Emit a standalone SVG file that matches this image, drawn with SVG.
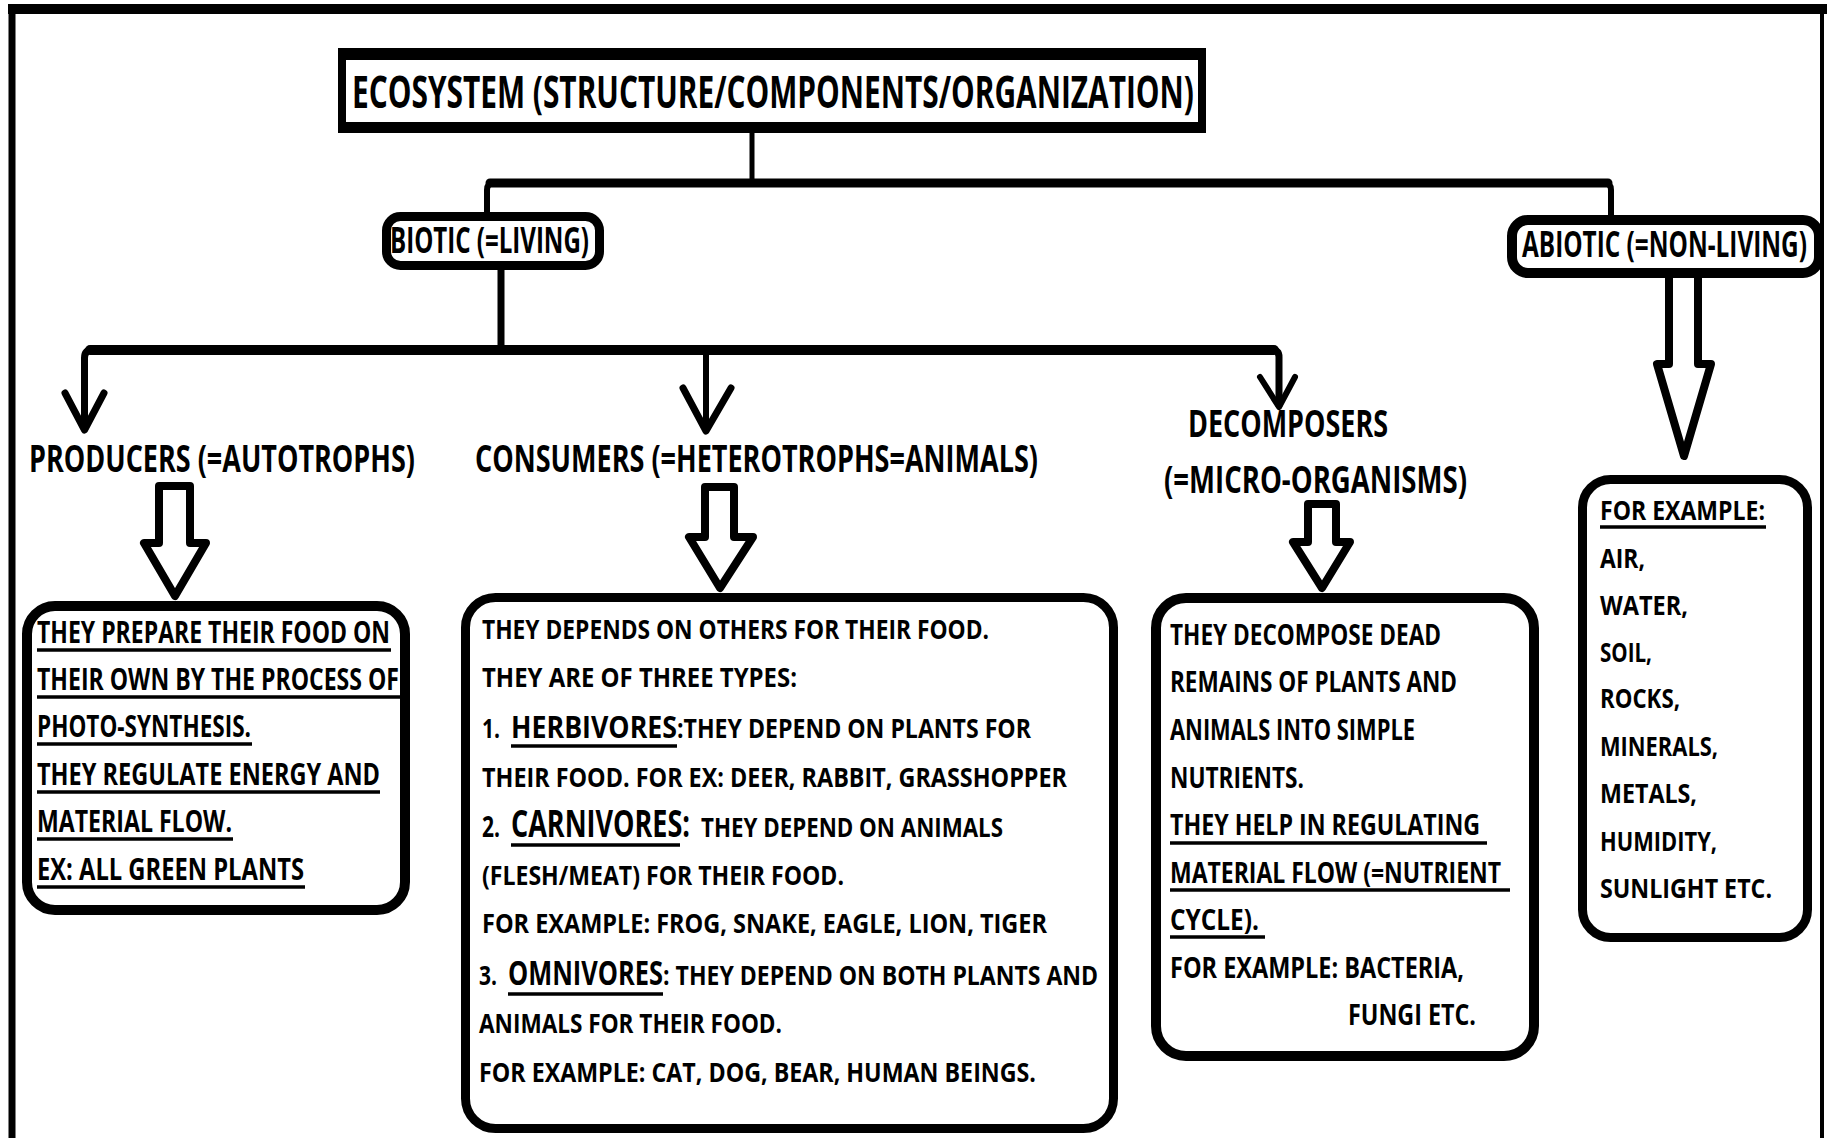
<svg xmlns="http://www.w3.org/2000/svg" width="1827" height="1138" viewBox="0 0 1827 1138">
  <style>
    text { font-family: "Open Sans", "Liberation Sans", sans-serif; font-weight: 700; fill: #000; }
    .box { fill: #fff; stroke: #000; }
    .line { fill: none; stroke: #000; stroke-linecap: round; stroke-linejoin: round; }
    .block { fill: #fff; stroke: #000; stroke-width: 8; stroke-linejoin: round; }
    .ul { stroke: #000; stroke-width: 3.5; }
  </style>
  <rect width="1827" height="1138" fill="#fff"/>

  <!-- outer frame -->
  <g id="frame" fill="none" stroke="#000">
    <line x1="8" y1="9" x2="1827" y2="9" stroke-width="10"/>
    <line x1="12" y1="4" x2="12" y2="1138" stroke-width="7"/>
    <line x1="1822" y1="4" x2="1822" y2="1138" stroke-width="4"/>
  </g>

  <!-- connectors: tree lines, chevron arrows, hollow block arrows -->
  <g id="connectors">
    <line class="line" x1="752" y1="133" x2="752" y2="183" stroke-width="5"/>
    <path class="line" d="M487,212 V190 Q487,183 494,183 H1604 Q1611,183 1611,190 V216" stroke-width="6"/>
    <line class="line" x1="490" y1="183" x2="1608" y2="183" stroke-width="9"/>

    <line class="line" x1="501" y1="270" x2="501" y2="350" stroke-width="7"/>
    <path class="line" d="M84.5,428 V358 Q84.5,350 92,350 H1272 Q1279,350 1279,357 V405" stroke-width="7"/>
    <line class="line" x1="90" y1="350" x2="1274" y2="350" stroke-width="10"/>
    <line class="line" x1="706" y1="350" x2="706" y2="430" stroke-width="6"/>
    <path class="line" d="M65,393 L84.5,430 L104,393" stroke-width="7"/>
    <path class="line" d="M683,388 L706,431 L731,388" stroke-width="7"/>
    <path class="line" d="M1260,377 L1279,407 L1295,377" stroke-width="6"/>

    <path class="block" d="M159,486 H190 V543 H206 L175,596 L144,543 H159 Z"/>
    <path class="block" d="M705,487 H734 V537 H753 L720,588 L689,537 H705 Z"/>
    <path class="block" d="M1308,504 H1336 V542 H1350 L1322,588 L1293,542 H1308 Z"/>
    <path class="block" d="M1669,272 H1698 V364 H1711 L1684,456 L1657,364 H1669 Z"/>
  </g>

  <g id="node-ecosystem">
    <rect x="338" y="48" width="868" height="85" fill="#000"/>
    <rect x="346" y="60" width="852" height="62" fill="#fff"/>
    <text transform="translate(352,108) scale(0.72,1)" font-size="45" textLength="1169.4" lengthAdjust="spacingAndGlyphs">ECOSYSTEM (STRUCTURE/COMPONENTS/ORGANIZATION)</text>
  </g>

  <g id="node-biotic">
    <rect class="box" x="386.5" y="216.5" width="213" height="49" rx="14" stroke-width="9"/>
    <text transform="translate(390,253) scale(0.72,1)" font-size="36" textLength="276.4" lengthAdjust="spacingAndGlyphs">BIOTIC (=LIVING)</text>
  </g>

  <g id="node-abiotic">
    <rect class="box" x="1512" y="220" width="307" height="53" rx="16" stroke-width="10"/>
    <text transform="translate(1522,257) scale(0.72,1)" font-size="35" textLength="395.8" lengthAdjust="spacingAndGlyphs">ABIOTIC (=NON-LIVING)</text>
  </g>

  <g id="node-producers">
    <text transform="translate(29,472) scale(0.72,1)" font-size="38" textLength="536.1" lengthAdjust="spacingAndGlyphs">PRODUCERS (=AUTOTROPHS)</text>
  </g>

  <g id="node-consumers">
    <text transform="translate(475,472) scale(0.72,1)" font-size="38" textLength="781.9" lengthAdjust="spacingAndGlyphs">CONSUMERS (=HETEROTROPHS=ANIMALS)</text>
  </g>

  <g id="node-decomposers">
    <text transform="translate(1188,437) scale(0.72,1)" font-size="37" textLength="277.8" lengthAdjust="spacingAndGlyphs">DECOMPOSERS</text>
    <text transform="translate(1164,493) scale(0.72,1)" font-size="37" textLength="420.8" lengthAdjust="spacingAndGlyphs">(=MICRO-ORGANISMS)</text>
  </g>

  <g id="node-producers-info">
    <rect class="box" x="27" y="606" width="378" height="304" rx="28" stroke-width="10"/>
    <g font-size="30">
      <text transform="translate(37,643) scale(0.72,1)" textLength="490.3" lengthAdjust="spacingAndGlyphs">THEY PREPARE THEIR FOOD ON</text>
      <text transform="translate(37,690) scale(0.72,1)" textLength="502.8" lengthAdjust="spacingAndGlyphs">THEIR OWN BY THE PROCESS OF</text>
      <text transform="translate(37,737) scale(0.72,1)" textLength="297.2" lengthAdjust="spacingAndGlyphs">PHOTO-SYNTHESIS.</text>
      <text transform="translate(37,785) scale(0.72,1)" textLength="476.4" lengthAdjust="spacingAndGlyphs">THEY REGULATE ENERGY AND</text>
      <text transform="translate(37,832) scale(0.72,1)" textLength="270.8" lengthAdjust="spacingAndGlyphs">MATERIAL FLOW.</text>
      <text transform="translate(37,880) scale(0.72,1)" textLength="370.8" lengthAdjust="spacingAndGlyphs">EX: ALL GREEN PLANTS</text>
    </g>
    <line class="ul" x1="37" y1="650" x2="391" y2="650"/>
    <line class="ul" x1="37" y1="697" x2="400" y2="697"/>
    <line class="ul" x1="37" y1="744" x2="252" y2="744"/>
    <line class="ul" x1="37" y1="792" x2="380" y2="792"/>
    <line class="ul" x1="37" y1="839" x2="233" y2="839"/>
    <line class="ul" x1="37" y1="887" x2="305" y2="887"/>
  </g>

  <g id="node-consumers-info">
    <rect class="box" x="465.5" y="597.5" width="648" height="531" rx="30" stroke-width="9"/>
    <g font-size="26">
      <text transform="translate(482,639) scale(0.72,1)" textLength="704.2" lengthAdjust="spacingAndGlyphs">THEY DEPENDS ON OTHERS FOR THEIR FOOD.</text>
      <text transform="translate(482,687) scale(0.72,1)" textLength="437.5" lengthAdjust="spacingAndGlyphs">THEY ARE OF THREE TYPES:</text>
      <text transform="translate(482,738) scale(0.72,1)"><tspan x="0" textLength="25" lengthAdjust="spacingAndGlyphs">1.</tspan><tspan x="40.3" font-size="30" textLength="230.6" lengthAdjust="spacingAndGlyphs">HERBIVORES</tspan><tspan x="270.8" textLength="491.7" lengthAdjust="spacingAndGlyphs">:THEY DEPEND ON PLANTS FOR</tspan></text>
      <text transform="translate(482,787) scale(0.72,1)" textLength="812.5" lengthAdjust="spacingAndGlyphs">THEIR FOOD. FOR EX: DEER, RABBIT, GRASSHOPPER</text>
      <text transform="translate(482,837) scale(0.72,1)"><tspan x="0" font-size="28" textLength="25" lengthAdjust="spacingAndGlyphs">2.</tspan><tspan x="40.3" font-size="37" textLength="248.6" lengthAdjust="spacingAndGlyphs">CARNIVORES:</tspan><tspan x="304.2" textLength="419.4" lengthAdjust="spacingAndGlyphs">THEY DEPEND ON ANIMALS</tspan></text>
      <text transform="translate(482,885) scale(0.72,1)" textLength="502.8" lengthAdjust="spacingAndGlyphs">(FLESH/MEAT) FOR THEIR FOOD.</text>
      <text transform="translate(482,933) scale(0.72,1)" textLength="784.7" lengthAdjust="spacingAndGlyphs">FOR EXAMPLE: FROG, SNAKE, EAGLE, LION, TIGER</text>
      <text transform="translate(479,985) scale(0.72,1)"><tspan x="0" textLength="25" lengthAdjust="spacingAndGlyphs">3.</tspan><tspan x="40.3" font-size="34" textLength="215.3" lengthAdjust="spacingAndGlyphs">OMNIVORES</tspan><tspan x="255.6" textLength="604.2" lengthAdjust="spacingAndGlyphs">: THEY DEPEND ON BOTH PLANTS AND</tspan></text>
      <text transform="translate(479,1033) scale(0.72,1)" textLength="420.8" lengthAdjust="spacingAndGlyphs">ANIMALS FOR THEIR FOOD.</text>
      <text transform="translate(479,1082) scale(0.72,1)" textLength="773.6" lengthAdjust="spacingAndGlyphs">FOR EXAMPLE: CAT, DOG, BEAR, HUMAN BEINGS.</text>
    </g>
    <line class="ul" x1="511" y1="746" x2="677" y2="746"/>
    <line class="ul" x1="511" y1="845" x2="680" y2="845"/>
    <line class="ul" x1="508" y1="994" x2="663" y2="994"/>
  </g>

  <g id="node-decomposers-info">
    <rect class="box" x="1156" y="598" width="378" height="458" rx="30" stroke-width="10"/>
    <g font-size="28">
      <text transform="translate(1170,645) scale(0.72,1)" textLength="376.4" lengthAdjust="spacingAndGlyphs">THEY DECOMPOSE DEAD</text>
      <text transform="translate(1170,692) scale(0.72,1)" textLength="398.6" lengthAdjust="spacingAndGlyphs">REMAINS OF PLANTS AND</text>
      <text transform="translate(1170,740) scale(0.72,1)" textLength="340.3" lengthAdjust="spacingAndGlyphs">ANIMALS INTO SIMPLE</text>
      <text transform="translate(1170,788) scale(0.72,1)" textLength="186.1" lengthAdjust="spacingAndGlyphs">NUTRIENTS.</text>
      <text transform="translate(1170,835) scale(0.72,1)" textLength="430.6" lengthAdjust="spacingAndGlyphs">THEY HELP IN REGULATING</text>
      <text transform="translate(1170,883) scale(0.72,1)" textLength="459.7" lengthAdjust="spacingAndGlyphs">MATERIAL FLOW (=NUTRIENT</text>
      <text transform="translate(1170,930) scale(0.72,1)" textLength="123.6" lengthAdjust="spacingAndGlyphs">CYCLE).</text>
      <text transform="translate(1170,978) scale(0.72,1)" textLength="408.3" lengthAdjust="spacingAndGlyphs">FOR EXAMPLE: BACTERIA,</text>
      <text transform="translate(1348,1025) scale(0.72,1)" textLength="177.8" lengthAdjust="spacingAndGlyphs">FUNGI ETC.</text>
    </g>
    <line class="ul" x1="1170" y1="843" x2="1487" y2="843"/>
    <line class="ul" x1="1170" y1="890" x2="1510" y2="890"/>
    <line class="ul" x1="1170" y1="937" x2="1265" y2="937"/>
  </g>

  <g id="node-abiotic-info">
    <rect class="box" x="1582.5" y="479.5" width="225" height="458" rx="28" stroke-width="9"/>
    <g font-size="27">
      <text transform="translate(1600,520) scale(0.72,1)" textLength="229.2" lengthAdjust="spacingAndGlyphs">FOR EXAMPLE:</text>
      <text transform="translate(1600,568) scale(0.72,1)" textLength="62.5" lengthAdjust="spacingAndGlyphs">AIR,</text>
      <text transform="translate(1600,615) scale(0.72,1)" textLength="122.2" lengthAdjust="spacingAndGlyphs">WATER,</text>
      <text transform="translate(1600,662) scale(0.72,1)" textLength="72.2" lengthAdjust="spacingAndGlyphs">SOIL,</text>
      <text transform="translate(1600,708) scale(0.72,1)" textLength="111.1" lengthAdjust="spacingAndGlyphs">ROCKS,</text>
      <text transform="translate(1600,756) scale(0.72,1)" textLength="163.9" lengthAdjust="spacingAndGlyphs">MINERALS,</text>
      <text transform="translate(1600,803) scale(0.72,1)" textLength="134.7" lengthAdjust="spacingAndGlyphs">METALS,</text>
      <text transform="translate(1600,851) scale(0.72,1)" textLength="162.5" lengthAdjust="spacingAndGlyphs">HUMIDITY,</text>
      <text transform="translate(1600,898) scale(0.72,1)" textLength="238.9" lengthAdjust="spacingAndGlyphs">SUNLIGHT ETC.</text>
    </g>
    <line class="ul" x1="1600" y1="527" x2="1766" y2="527"/>
  </g>
</svg>
